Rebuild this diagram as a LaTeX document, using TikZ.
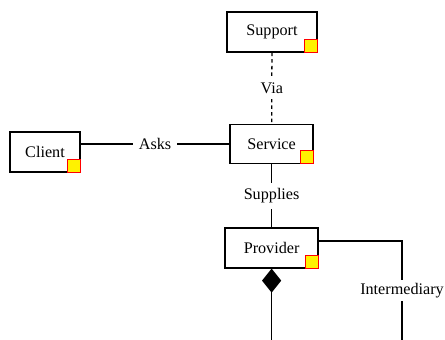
\documentclass[tikz,border=0pt]{standalone}
\usepackage{fontspec}
\newfontfamily\labelfont{Liberation Serif}
\usepackage{tikz}
\usetikzlibrary{positioning, arrows.meta}

\begin{document}
\begin{tikzpicture}[font=\labelfont\fontsize{11.5}{13.5}\selectfont,
        classbox/.style={draw, line width=0.9pt, minimum height=1cm, inner sep=0pt},
        flagbox/.style={draw=red, fill=yellow, line width=0.7pt, minimum size=0.32cm, inner sep=0pt, anchor=south east},
        link/.style={line width=0.9pt},
        tag/.style={fill=white, inner sep=4pt}]
                \useasboundingbox (0, 0) rectangle (11.125, 8.5);

                \node[classbox, minimum width=2.25cm] (support) at (6.8, 7.7) {Support};
                \node[classbox, minimum width=2.075cm, minimum height=0.975cm] (service) at (6.79, 4.9) {Service};
                \node[classbox, minimum width=1.75cm] (client) at (1.125, 4.7) {Client};
                \node[classbox, minimum width=2.325cm] (provider) at (6.79, 2.3) {Provider};

                \foreach \n in {support, service, client, provider}
                    \node[flagbox] (\n flag) at (\n.south east) {};

                \coordinate (bend) at (10.05, 2.475);
                \coordinate (interEnd) at (10.05, 0);
                \coordinate (partEnd) at (6.79, 0);

                \draw[link, dash pattern=on 2.5pt off 2.2pt] (support) -- node[tag] {Via} (service);
                \draw[link] (service.west) -- node[tag] {Asks} (service.west -| client.east);
                \draw[link] (service) -- node[tag] {Supplies} (provider);
                \draw[link] (provider.east |- bend) -- (bend) -- node[tag, inner sep=2pt] {Intermediary} (interEnd);
                \draw[link, {Diamond[length=0.6cm, width=0.48cm]}-] (provider) -- (partEnd);
            \end{tikzpicture}
\end{document}
